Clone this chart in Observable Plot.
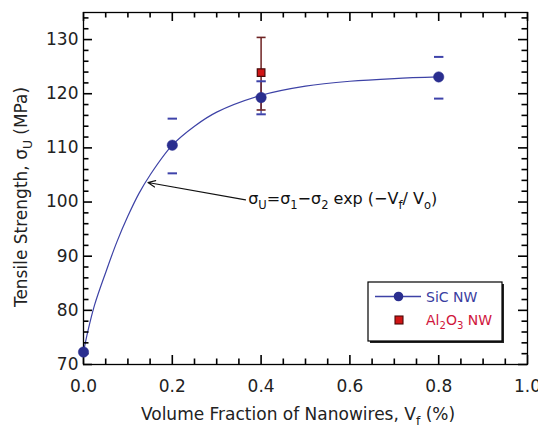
<!DOCTYPE html>
<html><head><meta charset="utf-8">
<script src="https://cdn.jsdelivr.net/npm/d3@7"></script>
<script src="https://cdn.jsdelivr.net/npm/@observablehq/plot@0.6"></script>
<style>
body{margin:0;background:#fff;}
#wrap{position:relative;width:538px;height:428px;}
</style></head><body><div id="wrap"></div>
<script>
// ---- data ----
const sicX = [0.0, 0.2, 0.4, 0.8];
const sicY = [72.3, 110.5, 119.3, 123.1];
const sicErrX = [0.2, 0.4, 0.8];
const sicErrLow = [105.3, 116.2, 119.1];
const sicErrHigh = [115.4, 122.3, 126.8];
const aloX = [0.4];
const aloY = [123.9];
const aloLow = [117.0];
const aloHigh = [130.4];
const fitX = [0, 0.01, 0.025, 0.05, 0.075, 0.1, 0.125, 0.15, 0.2, 0.25, 0.3, 0.4, 0.5, 0.6, 0.7, 0.8];
const fitY = [72.3, 76.2, 81.0, 87.0, 92.6, 97.4, 101.6, 105.0, 110.5, 114.0, 116.6, 119.7, 121.4, 122.3, 122.8, 123.1];
const xTicks = [0, 0.2, 0.4, 0.6, 0.8, 1.0];
const xMinorTicks = [0.05, 0.1, 0.15, 0.25, 0.3, 0.35, 0.45, 0.5, 0.55, 0.65, 0.7, 0.75, 0.85, 0.9, 0.95];
const yTicks = [70, 80, 90, 100, 110, 120, 130];
const yMinorTicks = [72, 74, 76, 78, 82, 84, 86, 88, 92, 94, 96, 98, 102, 104, 106, 108, 112, 114, 116, 118, 122, 124, 126, 128, 132, 134];
const arrowFrom = [0.365, 100.4];
const arrowTo = [0.145, 103.6];
const formulaAt = [0.372, 100.4];

const sic = sicX.map((x, i) => ({x, y: sicY[i]}));
const sicErr = sicErrX.map((x, i) => ({x, lo: sicErrLow[i], hi: sicErrHigh[i]}));
const alo = aloX.map((x, i) => ({x, y: aloY[i], lo: aloLow[i], hi: aloHigh[i]}));
const fit = fitX.map((x, i) => ({x, y: fitY[i]}));

const FONT = "DejaVu Sans, sans-serif";
const navy = "#2a2e8f", curveC = "#3d42a6", dashC = "#3e43aa", brown = "#6e2323", red = "#d01515";

const W = 538, H = 428, ML = 83, MR = 11, MT = 12, MB = 64;
const PW = W - ML - MR, PH = H - MT - MB;

const hline = {draw(ctx, size) { const r = Math.sqrt(size / Math.PI); ctx.moveTo(-r, 0); ctx.lineTo(r, 0); }};

// inward frame ticks (Plot tick marks, shortened with insets)
const tk = {stroke: "black", strokeWidth: 1.6};
function edgeTickMarks(major, minor, majLen, minLen) {
  return [
    Plot.tickX(xTicks, {x: d => d, insetTop: PH - majLen, ...tk}),
    Plot.tickX(xTicks, {x: d => d, insetBottom: PH - majLen, ...tk}),
    Plot.tickX(xMinorTicks, {x: d => d, insetTop: PH - minLen, ...tk}),
    Plot.tickX(xMinorTicks, {x: d => d, insetBottom: PH - minLen, ...tk}),
    Plot.tickY(yTicks, {y: d => d, insetRight: PW - majLen, ...tk}),
    Plot.tickY(yTicks, {y: d => d, insetLeft: PW - majLen, ...tk}),
    Plot.tickY(yMinorTicks, {y: d => d, insetRight: PW - minLen, ...tk}),
    Plot.tickY(yMinorTicks, {y: d => d, insetLeft: PW - minLen, ...tk})
  ];
}

const chart = Plot.plot({
  width: W, height: H,
  marginLeft: ML, marginRight: MR, marginTop: MT, marginBottom: MB,
  x: {domain: [0, 1]},
  y: {domain: [70, 135]},
  style: {fontFamily: FONT, background: "white", overflow: "visible"},
  marks: [
    Plot.axisX({ticks: xTicks, tickFormat: d3.format(".1f"), tickSize: 0, tickPadding: 15, fontSize: 17, fill: "#222", label: null}),
    Plot.axisY({ticks: yTicks, tickFormat: d3.format("d"), tickSize: 0, tickPadding: 5, fontSize: 17, fill: "#222", label: null}),
    Plot.line(fit, {x: "x", y: "y", curve: "catmull-rom", stroke: curveC, strokeWidth: 1.2}),
    Plot.ruleX(sicErr.filter(d => d.x === 0.4), {x: "x", y1: "lo", y2: "hi", stroke: dashC, strokeWidth: 1.3}),
    Plot.ruleX(alo, {x: "x", y1: "lo", y2: "hi", stroke: brown, strokeWidth: 1.5}),
    Plot.dot(alo, {x: "x", y: "lo", symbol: hline, r: 4.5, stroke: brown, strokeWidth: 1.6, fill: "none"}),
    Plot.dot(alo, {x: "x", y: "hi", symbol: hline, r: 4.5, stroke: brown, strokeWidth: 1.6, fill: "none"}),
    Plot.dot(sicErr, {x: "x", y: "lo", symbol: hline, r: 4.7, stroke: dashC, strokeWidth: 2, fill: "none"}),
    Plot.dot(sicErr, {x: "x", y: "hi", symbol: hline, r: 4.7, stroke: dashC, strokeWidth: 2, fill: "none"}),
    Plot.arrow([0], {x1: () => arrowFrom[0], y1: () => arrowFrom[1], x2: () => arrowTo[0], y2: () => arrowTo[1], stroke: "#111", strokeWidth: 1.1, headLength: 11, headAngle: 48}),
    ...edgeTickMarks(xTicks, xMinorTicks, 9, 5.5),
    Plot.frame({stroke: "black", strokeWidth: 1.3, fill: "none"}),
    Plot.dot(sic, {x: "x", y: "y", r: 5.2, fill: navy, stroke: navy, strokeWidth: 0.5}),
    Plot.dot(alo, {x: "x", y: "y", symbol: "square", r: 4.3, fill: red, stroke: "#4a0a0a", strokeWidth: 1.2})
  ]
});
document.getElementById("wrap").appendChild(chart);

const svg = d3.select(chart);
const sx = chart.scale("x"), sy = chart.scale("y");

// ---- text with subscripts and legend ----
function subText(g, parts, size) {
  let inSub = false;
  parts.forEach(([t, sub]) => {
    const ts = g.append("tspan").text(t);
    if (sub) {
      ts.attr("font-size", size * 0.72);
      if (!inSub) ts.attr("dy", size * 0.28);
      inSub = true;
    } else {
      if (inSub) ts.attr("dy", -size * 0.28);
      inSub = false;
    }
  });
}

const xt = svg.append("text").attr("x", 298).attr("y", 420).attr("text-anchor", "middle")
  .attr("font-family", FONT).attr("font-size", 17).attr("fill", "#222");
subText(xt, [["Volume Fraction of Nanowires, V"], ["f", true], [" (%)"]], 17);

const yt = svg.append("text").attr("transform", "translate(27,197) rotate(-90)").attr("text-anchor", "middle")
  .attr("font-family", FONT).attr("font-size", 17).attr("fill", "#222");
subText(yt, [["Tensile Strength, σ"], ["U", true], [" (MPa)"]], 17);

const ft = svg.append("text").attr("x", sx.apply(formulaAt[0])).attr("y", sy.apply(formulaAt[1]) + 5)
  .attr("text-anchor", "start")
  .attr("font-family", FONT).attr("font-size", 16).attr("fill", "#111");
subText(ft, [["σ"], ["U", true], ["=σ"], ["1", true], ["−σ"], ["2", true], [" exp (−V"], ["f", true], ["/ V"], ["o", true], [")"]], 16);

const lg = svg.append("g").attr("text-anchor", "start");
lg.append("rect").attr("x", 370).attr("y", 284).attr("width", 134).attr("height", 59).attr("fill", "#222");
lg.append("rect").attr("x", 368).attr("y", 282).attr("width", 134).attr("height", 59).attr("fill", "white").attr("stroke", "black").attr("stroke-width", 1.2);
lg.append("line").attr("x1", 375).attr("x2", 421).attr("y1", 296.5).attr("y2", 296.5).attr("stroke", curveC).attr("stroke-width", 1.3);
lg.append("circle").attr("cx", 398.5).attr("cy", 296.5).attr("r", 4.8).attr("fill", navy);
lg.append("rect").attr("x", 395).attr("y", 316).attr("width", 8).attr("height", 8).attr("fill", red).attr("stroke", "#4a0a0a").attr("stroke-width", 1.1);
lg.append("text").attr("x", 426).attr("y", 301.5).attr("font-family", FONT).attr("font-size", 14).attr("fill", "#3a3da0").text("SiC NW");
const at = lg.append("text").attr("x", 426).attr("y", 325).attr("font-family", FONT).attr("font-size", 14).attr("fill", "#d0163c");
subText(at, [["Al"], ["2", true], ["O"], ["3", true], [" NW"]], 14);
</script></body></html>
